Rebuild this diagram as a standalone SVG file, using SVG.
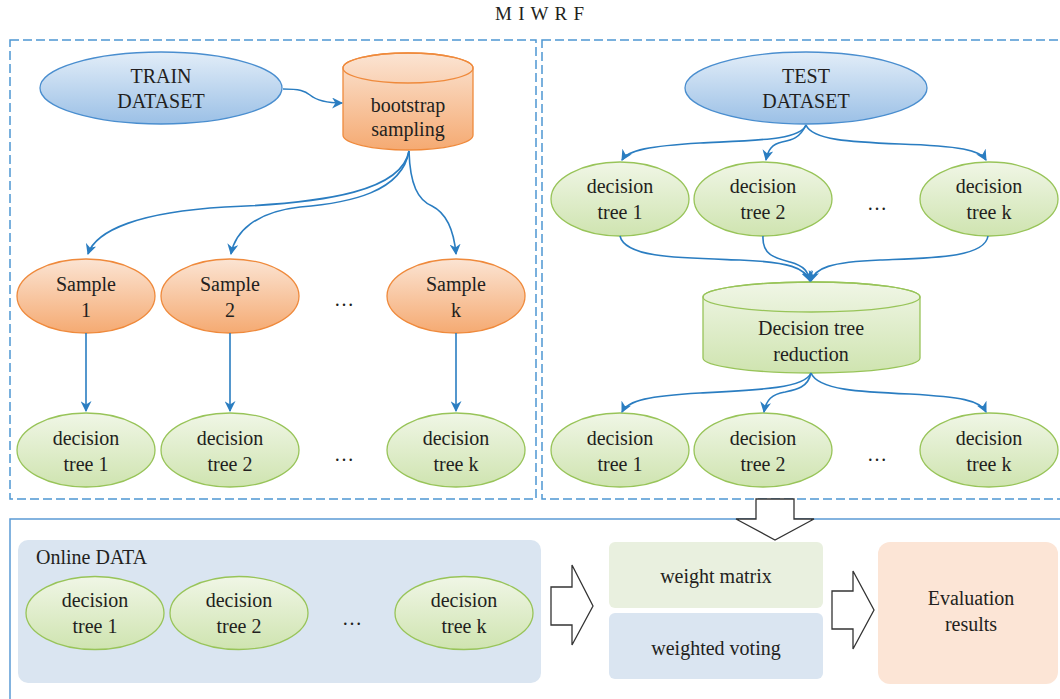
<svg xmlns="http://www.w3.org/2000/svg" width="1060" height="699" viewBox="0 0 1060 699">
<defs>
<linearGradient id="gBlue" x1="0" y1="0" x2="0" y2="1"><stop offset="0" stop-color="#e2edf8"/><stop offset="1" stop-color="#9bc0e6"/></linearGradient>
<linearGradient id="gOrange" x1="0" y1="0" x2="0" y2="1"><stop offset="0" stop-color="#fbe4d3"/><stop offset="1" stop-color="#f5aa72"/></linearGradient>
<linearGradient id="gGreen" x1="0" y1="0" x2="0" y2="1"><stop offset="0" stop-color="#f0f6e6"/><stop offset="1" stop-color="#cfe4b0"/></linearGradient>
<marker id="arr" viewBox="0 0 10 10" refX="9" refY="5" markerWidth="11" markerHeight="11" markerUnits="userSpaceOnUse" orient="auto">
<path d="M0,0 L10,5 L0,10 L3,5 z" fill="#2a7dc1"/>
</marker>
<style>
text{font-family:"Liberation Serif","Times New Roman",serif;fill:#231f20;font-size:20px;text-anchor:middle}
.box{fill:none;stroke:#4d97d2;stroke-width:1.5;stroke-dasharray:9 4}
.solid{fill:none;stroke:#5b9bd5;stroke-width:1.5}
.blue{fill:url(#gBlue);stroke:#4a8ecf;stroke-width:1.3}
.orange{fill:url(#gOrange);stroke:#ef8a3c;stroke-width:1.3}
.green{fill:url(#gGreen);stroke:#98c459;stroke-width:1.3}
.conn path{fill:none;stroke:#2a7dc1;stroke-width:1.6;marker-end:url(#arr)}
.hollow{fill:#fff;stroke:#333;stroke-width:1.3}
.dots{font-size:20px}
</style>
</defs>
<rect width="1060" height="699" fill="#fff"/>
<text x="540" y="20" style="font-size:19px;letter-spacing:0.8px">M I W R F</text>

<g id="frames">
<rect class="box" x="10" y="40" width="526" height="459"/>
<rect class="box" x="542" y="40" width="520" height="459"/>
<rect class="solid" x="10" y="519" width="1060" height="200"/>
</g>

<g id="train"><ellipse class="blue" cx="161" cy="88" rx="121" ry="36"/><text x="161" y="83">TRAIN</text><text x="161" y="108">DATASET</text></g>
<g id="bootstrap">
<path class="orange" d="M343,68 V135 A65,15 0 0 0 473,135 V68 A65,15 0 0 0 343,68 Z"/>
<ellipse cx="408" cy="68" rx="65" ry="15" fill="none" stroke="#ef8a3c" stroke-width="1.3"/>
<text x="408" y="112">bootstrap</text><text x="408" y="136">sampling</text></g>

<g id="sample1"><ellipse class="orange" cx="86" cy="296" rx="69" ry="37"/><text x="86" y="291">Sample</text><text x="86" y="317">1</text></g>
<g id="sample2"><ellipse class="orange" cx="230" cy="296" rx="69" ry="37"/><text x="230" y="291">Sample</text><text x="230" y="317">2</text></g>
<g id="samplek"><ellipse class="orange" cx="456" cy="296" rx="69" ry="37"/><text x="456" y="291">Sample</text><text x="456" y="317">k</text></g>
<text class="dots" x="344" y="306">…</text>

<g id="lt1"><ellipse class="green" cx="86" cy="450" rx="69" ry="37"/><text x="86" y="445">decision</text><text x="86" y="471">tree 1</text></g>
<g id="lt2"><ellipse class="green" cx="230" cy="450" rx="69" ry="37"/><text x="230" y="445">decision</text><text x="230" y="471">tree 2</text></g>
<g id="ltk"><ellipse class="green" cx="456" cy="450" rx="69" ry="37"/><text x="456" y="445">decision</text><text x="456" y="471">tree k</text></g>
<text class="dots" x="344" y="461">…</text>

<g id="test"><ellipse class="blue" cx="806" cy="88" rx="121" ry="36"/><text x="806" y="83">TEST</text><text x="806" y="108">DATASET</text></g>

<g id="rt1"><ellipse class="green" cx="620" cy="199" rx="69" ry="37"/><text x="620" y="193">decision</text><text x="620" y="219">tree 1</text></g>
<g id="rt2"><ellipse class="green" cx="763" cy="199" rx="69" ry="37"/><text x="763" y="193">decision</text><text x="763" y="219">tree 2</text></g>
<g id="rtk"><ellipse class="green" cx="989" cy="199" rx="69" ry="37"/><text x="989" y="193">decision</text><text x="989" y="219">tree k</text></g>
<text class="dots" x="877" y="210">…</text>

<g id="reduction">
<path class="green" d="M703,297 V358 A108.5,15 0 0 0 920,358 V297 A108.5,15 0 0 0 703,297 Z"/>
<ellipse cx="811.5" cy="297" rx="108.5" ry="15" fill="none" stroke="#98c459" stroke-width="1.3"/>
<text x="811" y="335">Decision tree</text><text x="811" y="361">reduction</text></g>

<g id="rb1"><ellipse class="green" cx="620" cy="450" rx="69" ry="37"/><text x="620" y="445">decision</text><text x="620" y="471">tree 1</text></g>
<g id="rb2"><ellipse class="green" cx="763" cy="450" rx="69" ry="37"/><text x="763" y="445">decision</text><text x="763" y="471">tree 2</text></g>
<g id="rbk"><ellipse class="green" cx="989" cy="450" rx="69" ry="37"/><text x="989" y="445">decision</text><text x="989" y="471">tree k</text></g>
<text class="dots" x="877" y="461">…</text>

<g id="online">
<rect x="18" y="540" width="523" height="143" rx="10" fill="#dae5f1"/>
<text x="36" y="564" style="text-anchor:start">Online DATA</text>
<g id="ot1"><ellipse class="green" cx="95" cy="613" rx="69" ry="36.5"/><text x="95" y="607">decision</text><text x="95" y="633">tree 1</text></g>
<g id="ot2"><ellipse class="green" cx="239" cy="613" rx="69" ry="36.5"/><text x="239" y="607">decision</text><text x="239" y="633">tree 2</text></g>
<g id="otk"><ellipse class="green" cx="464" cy="613" rx="69" ry="36.5"/><text x="464" y="607">decision</text><text x="464" y="633">tree k</text></g>
<text class="dots" x="352" y="625">…</text>
</g>

<g id="weightmatrix"><rect x="609" y="542" width="214" height="66" rx="6" fill="#e9f0df"/><text x="716" y="583">weight matrix</text></g>
<g id="weightedvoting"><rect x="609" y="613" width="214" height="66" rx="6" fill="#dae5f1"/><text x="716" y="655">weighted voting</text></g>
<g id="evaluation"><rect x="878" y="542" width="180" height="142" rx="12" fill="#fce5d6"/><text x="971" y="605">Evaluation</text><text x="971" y="631">results</text></g>

<g id="connectors">
<g class="conn">
<path d="M283,89 C300,89 305,91 310,95 C316,100 325,103 342,103"/>
<path d="M409,151 C402,190 330,203 225,207 C140,212 96,230 88,254"/>
<path d="M409,151 C402,192 350,203 300,207 C255,212 235,232 231,254"/>
<path d="M409,151 C410,185 418,200 432,206 C448,214 454,232 456,254"/>
<path d="M86,333 V411"/>
<path d="M230,333 V411"/>
<path d="M456,333 V411"/>
<path d="M806,125 C800,140 760,140 700,143 C650,146 628,150 622,160"/>
<path d="M806,125 C800,138 792,140 782,142 C772,144 768,150 766,160"/>
<path d="M806,125 C812,140 850,142 900,144 C960,146 980,150 986,160"/>
<path d="M620,236 C625,258 680,258 740,260 C790,262 805,268 810,281"/>
<path d="M763,236 C762,255 775,258 790,262 C805,266 808,272 810,281"/>
<path d="M988,236 C985,258 930,258 880,260 C830,262 815,268 811,281"/>
<path d="M811,373 C805,388 760,390 700,393 C650,396 628,400 622,412"/>
<path d="M811,373 C808,388 795,390 785,392 C772,394 766,400 764,412"/>
<path d="M811,373 C818,390 860,392 910,394 C960,397 980,400 986,412"/>
</g>
<polygon class="hollow" points="756,499 794,499 794,519 814,519 775,540 736,519 756,519"/>
<polygon class="hollow" points="551,587 572,587 572,565 593,606 572,645 572,625 551,625"/>
<polygon class="hollow" points="832,591 853,591 853,571 874,610 853,649 853,629 832,629"/>
</g>
</svg>
